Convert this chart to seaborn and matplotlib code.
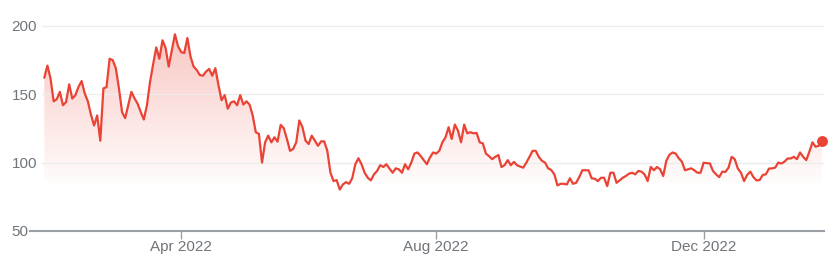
import numpy as np
import pandas as pd
import matplotlib
matplotlib.use("Agg")
import matplotlib.pyplot as plt
import seaborn as sns
from matplotlib.path import Path
from matplotlib.colors import to_rgb

# ---------------- data ----------------
start_date = "2022-01-28"
market_holidays = ["2022-02-21", "2022-04-15", "2022-05-30", "2022-06-20", "2022-07-04",
                   "2022-09-05", "2022-11-24", "2022-12-26", "2023-01-02", "2023-01-16"]

prices_jan_mar = [162.0, 170.9, 161.6, 144.8, 146.3, 151.7, 141.9, 144.3, 157.2, 146.8,
                  149.3, 155.4, 159.6, 150.5, 144.8, 135.0, 127.1, 134.5, 116.0, 154.2,
                  155.2, 175.9, 174.9, 169.0, 154.2, 136.9, 132.5, 142.0, 151.7, 147.0,
                  143.1, 137.0, 131.5, 141.9, 159.1, 172.0, 184.2, 175.9, 189.4, 183.8,
                  170.2, 182.0, 193.8, 185.0]
prices_apr_jul = [180.8, 180.1, 191.1, 177.6, 170.2, 167.7, 164.0, 163.5, 166.5, 168.5,
                  163.5, 169.0, 156.6, 145.6, 149.3, 139.4, 143.9, 144.8, 141.9, 149.3,
                  142.4, 144.8, 142.4, 134.5, 122.2, 121.0, 100.0, 114.8, 119.7, 114.8,
                  118.5, 115.3, 127.6, 125.1, 117.3, 108.6, 109.9, 114.8, 130.8, 125.9,
                  116.0, 113.6, 119.7, 116.0, 112.3, 115.5, 115.5, 108.6, 92.6, 86.5,
                  87.2, 80.3, 84.0, 85.7, 84.5, 88.5, 98.8, 103.2, 98.8, 92.6,
                  88.9, 87.0, 91.4, 93.9, 98.1, 96.8, 98.8, 95.6, 92.6, 95.8,
                  95.1, 92.6, 98.8, 95.1, 100.0, 106.6, 107.4, 104.9, 101.8, 98.8,
                  103.7, 107.4]
prices_aug_nov = [106.6, 108.6, 114.8, 118.5, 125.9, 117.3, 127.8, 123.4, 114.8, 127.8,
                  121.4, 122.2, 121.4, 121.7, 114.8, 114.0, 106.6, 104.7, 102.5, 104.2,
                  105.5, 96.8, 98.1, 101.8, 98.1, 100.5, 98.1, 97.1, 96.3, 100.0,
                  104.2, 108.6, 108.6, 104.2, 101.3, 100.0, 95.8, 94.6, 91.4, 83.3,
                  84.5, 84.5, 84.0, 88.5, 84.5, 85.2, 89.4, 94.4, 94.4, 94.4,
                  88.5, 88.2, 86.5, 88.9, 88.9, 82.8, 92.6, 92.6, 85.2, 87.0,
                  88.9, 90.2, 91.9, 92.6, 91.4, 93.9, 93.4, 91.4, 86.5, 96.8,
                  94.4, 96.8, 95.1, 90.2, 101.3, 105.7, 107.4, 106.6, 103.2, 100.7,
                  94.4, 95.1, 95.8, 94.4, 92.6, 92.6]
prices_dec_jan = [99.9, 99.6, 99.4, 93.9, 91.4, 89.4, 93.4, 93.2, 96.3, 104.2,
                  102.5, 95.6, 92.6, 86.5, 91.0, 93.4, 89.4, 87.0, 87.2, 91.0,
                  91.4, 95.6, 95.8, 96.3, 100.0, 99.3, 100.7, 103.0, 103.0, 104.2,
                  102.5, 107.4, 104.2, 101.8, 108.0, 114.8, 111.6, 112.3, 116.0]

tick_dates = ["2022-04-01", "2022-08-01", "2022-12-01"]
tick_labels = ["Apr 2022", "Aug 2022", "Dec 2022"]
y_ticks = [50, 100, 150, 200]
grid_values = [100, 150, 200]

prices = prices_jan_mar + prices_apr_jul + prices_aug_nov + prices_dec_jan

# ---------------- styling ----------------
RED = "#ea4335"
AXIS_GREY = "#9aa0a6"
TEXT_GREY = "#70757a"
GRID = "#ececec"

dates = pd.bdate_range(start=start_date, periods=len(prices), freq="C", holidays=market_holidays)
df = pd.DataFrame({"date": dates, "price": prices})
df["t"] = np.arange(len(df))

sns.set_theme(style="white")
plt.rcParams["font.family"] = ["Liberation Sans", "DejaVu Sans"]

W, H = 838, 272
fig = plt.figure(figsize=(W / 100, H / 100), dpi=100)
ax = fig.add_axes([30 / W, 41 / H, 794 / W, 223 / H])
XLIM = (-4.6, len(df) - 1 + 0.7)
YLIM = (50, 213)

# gradient fill under the line
floor = 85
poly = ax.fill_between(df["t"], df["price"], floor, where=df["price"] >= floor,
                       interpolate=True, color="none", linewidth=0)
clip = Path.make_compound_path(*poly.get_paths())
n = 256
frac = np.linspace(0, 1, n)
rgba = np.zeros((n, 1, 4))
rgba[..., :3] = to_rgb(RED)
rgba[:, 0, 3] = 0.015 + 0.30 * frac
im = ax.imshow(rgba, extent=[XLIM[0], XLIM[1], floor, 200], origin="lower",
               aspect="auto", zorder=1, interpolation="bilinear")
im.set_clip_path(clip, transform=ax.transData)

for v in grid_values:
    ax.axhline(v, xmin=0.015, color=GRID, linewidth=1.0, zorder=2)

sns.lineplot(data=df, x="t", y="price", color=RED, linewidth=1.6, ax=ax, zorder=3)
last = df.tail(1)
ax.plot(last["t"], last["price"], "o", color=RED, markersize=6.8, zorder=4, clip_on=False)

ax.set_xlim(*XLIM)
ax.set_ylim(*YLIM)

tick_pos = [int(df.loc[df["date"] >= pd.Timestamp(d), "t"].iloc[0]) for d in tick_dates]
ax.set_xticks(tick_pos)
ax.set_xticklabels(tick_labels)
ax.set_yticks(y_ticks)
ax.set_yticklabels([str(v) for v in y_ticks])
ax.tick_params(axis="x", length=5.8, width=1.0, color=AXIS_GREY, labelcolor=TEXT_GREY,
               labelsize=11, pad=1, direction="out", bottom=True)
ax.tick_params(axis="y", length=0, pad=13.2, labelcolor=TEXT_GREY, labelsize=11, left=True)
for lab in ax.get_yticklabels():
    lab.set_horizontalalignment("left")

ax.set_xlabel("")
ax.set_ylabel("")
ax.grid(False)
for s in ["left", "top", "right"]:
    ax.spines[s].set_visible(False)
ax.spines["bottom"].set_color(AXIS_GREY)
ax.spines["bottom"].set_linewidth(1.5)
ax.set_facecolor("white")

fig.savefig("out.png", dpi=100)
